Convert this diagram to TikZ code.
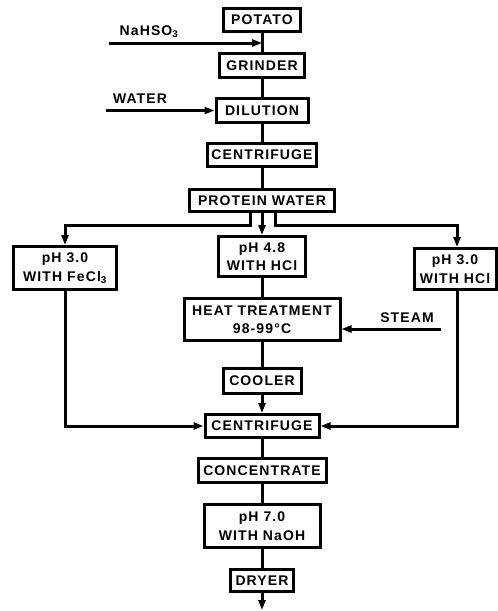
\documentclass[tikz,border=0pt]{standalone}
\usepackage{fontspec}
\setmainfont{Liberation Sans}[LetterSpace=8]
\usetikzlibrary{arrows.meta}

\begin{document}
\begin{tikzpicture}[x=1pt,y=-1pt]
						\tikzstyle{every node}+=[inner sep=0pt, font=\fontsize{14}{18.5}\selectfont\bfseries]
						\tikzstyle{unit}=[draw=black, line width=3pt, align=center]
						\tikzstyle{flow}=[black, line width=3pt]
						\tikzstyle{feed}=[flow, -{Triangle[length=10pt,width=7pt]}]
						\useasboundingbox (0,0) rectangle (498,611);
						% main line
						\node [unit, minimum width=77pt, minimum height=23pt] (potato) at (262,20) {POTATO};
						\node [unit, minimum width=85pt, minimum height=24pt] (grinder) at (262,65.5) {GRINDER};
						\node [unit, minimum width=92pt, minimum height=24pt] (dilution) at (262,110.5) {DILUTION};
						\node [unit, minimum width=109pt, minimum height=23pt] (centrifugeA) at (262,155) {CENTRIFUGE};
						\node [unit, minimum width=145pt, minimum height=22pt] (protein) at (262,200.5) {PROTEIN WATER};
						\node [unit, minimum width=103pt, minimum height=43pt] (feclA) at (65,268) {pH 3.0\\WITH FeCl\textsubscript{3}};
						\node [unit, minimum width=87pt, minimum height=40pt] (hclA) at (262,256.5) {pH 4.8\\WITH HCl};
						\node [unit, minimum width=82pt, minimum height=41pt] (hclB) at (455,269) {pH 3.0\\WITH HCl};
						\node [unit, minimum width=156pt, minimum height=42pt] (heat) at (262,319.5) {HEAT TREATMENT\\98-99°C};
						\node [unit, minimum width=78pt, minimum height=25pt] (cooler) at (262,381) {COOLER};
						\node [unit, minimum width=114pt, minimum height=23pt] (centrifugeB) at (262,426) {CENTRIFUGE};
						\node [unit, minimum width=128pt, minimum height=24pt] (concentrate) at (262,470.5) {CONCENTRATE};
						\node [unit, minimum width=116pt, minimum height=43pt] (naoh) at (262,526) {pH 7.0\\WITH NaOH};
						\node [unit, minimum width=63pt, minimum height=22pt] (dryer) at (262,580.5) {DRYER};
						% feeds
						\node (nahso) at (149,32) {NaHSO\textsubscript{3}};
						\node (water) at (140,99) {WATER};
						\node (steam) at (407,317.5) {STEAM};
						\coordinate (nahsoin) at (109,43);
						\coordinate (waterin) at (106,110.5);
						\coordinate (steamin) at (441,329);
						\coordinate (out) at (262,610);
						\draw [flow] (potato) -- (grinder);
						\draw [feed] (nahsoin) -- (nahsoin -| potato.south);
						\draw [flow] (grinder) -- (dilution);
						\draw [feed] (waterin) -- (dilution.west);
						\draw [flow] (dilution) -- (centrifugeA);
						\draw [flow] (centrifugeA) -- (protein);
						\draw [feed] ([xshift=-12pt]protein.south) -- ++(0,12) -| (feclA.north);
						\draw [feed] (protein.south) -- (hclA.north);
						\draw [feed] ([xshift=13pt]protein.south) -- ++(0,12) -| ([xshift=2pt]hclB.north);
						\draw [flow] (hclA) -- (heat);
						\draw [feed] (steamin) -- (steamin -| heat.east);
						\draw [flow] (heat) -- (cooler);
						\draw [feed] (cooler) -- (centrifugeB);
						\draw [feed] (feclA.south) |- (centrifugeB.west);
						\draw [feed] ([xshift=2pt]hclB.south) |- (centrifugeB.east);
						\draw [flow] (centrifugeB) -- (concentrate);
						\draw [flow] (concentrate) -- (naoh);
						\draw [flow] (naoh) -- (dryer);
						\draw [feed] (dryer) -- (out);
					\end{tikzpicture}
\end{document}
